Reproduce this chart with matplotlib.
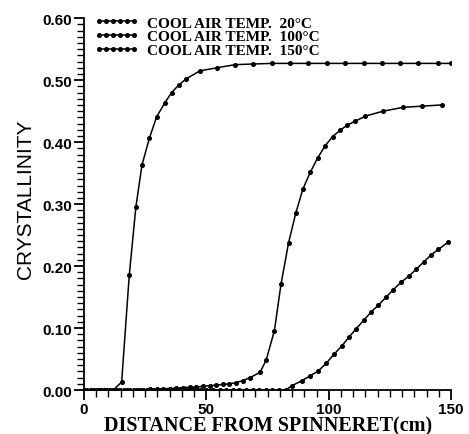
import matplotlib.pyplot as plt
from matplotlib.ticker import MultipleLocator, FormatStrFormatter

# Crystallinity along the spinline for three cool air temperatures
dist_20 = [0, 3, 6, 9, 12, 15.4, 18.5, 21.2, 23.7, 26.7, 29.7, 33.0, 35.8, 38.7,
           41.7, 47.4, 54.5, 61.8, 69.2, 76.7, 84.2, 91.6, 99.2, 106.7, 114.2,
           121.6, 129.1, 136.6, 144.8, 150]
cryst_20 = [0, 0, 0, 0, 0, 0.013, 0.185, 0.295, 0.363, 0.406, 0.441, 0.463, 0.480,
            0.492, 0.502, 0.515, 0.520, 0.525, 0.526, 0.527, 0.527, 0.527, 0.527,
            0.527, 0.527, 0.527, 0.527, 0.527, 0.527, 0.527]

dist_100 = [0, 2.7, 5.4, 8.1, 10.8, 13.5, 16.2, 18.9, 21.6, 24.3, 27.0, 29.7, 32.4,
            35.1, 37.8, 40.5, 43.2, 45.9, 48.6, 51.3, 54.0, 56.7, 59.4, 62.1, 64.8,
            67.8, 71.9, 74.4, 77.8, 80.5, 83.6, 86.5, 89.4, 92.4, 95.4, 98.5, 101.6,
            104.6, 107.4, 110.9, 115.0, 122.3, 130.2, 138.0, 146.2]
cryst_100 = [0, 0, 0, 0, 0, 0, 0, 0, 0, 0.0005, 0.001, 0.0015, 0.002, 0.0025, 0.003,
             0.004, 0.0045, 0.005, 0.006, 0.007, 0.008, 0.009, 0.010, 0.012, 0.015,
             0.020, 0.0285, 0.048, 0.096, 0.171, 0.238, 0.285, 0.324, 0.351, 0.374,
             0.394, 0.409, 0.419, 0.427, 0.434, 0.442, 0.450, 0.456, 0.458, 0.460]

dist_150 = [1.4, 4.1, 6.8, 9.5, 12.2, 14.9, 17.6, 20.3, 23.0, 25.7, 28.4, 31.1, 33.8,
            36.5, 39.2, 41.9, 44.6, 47.3, 50.0, 52.7, 55.4, 58.1, 60.8, 63.5, 66.2,
            68.9, 71.6, 74.3, 77.0, 79.7, 82.4, 84.9, 89.0, 92.4, 95.8, 98.9, 102.2,
            105.3, 108.4, 111.2, 114.4, 117.3, 120.3, 123.4, 126.4, 129.5, 132.8,
            135.7, 138.9, 141.8, 144.8, 148.9]
cryst_150 = [0] * 31 + [0.007, 0.015, 0.023, 0.031, 0.043, 0.058, 0.071, 0.086,
                        0.099, 0.113, 0.126, 0.137, 0.150, 0.162, 0.174, 0.184,
                        0.195, 0.207, 0.218, 0.227, 0.239]

labels = ['COOL AIR TEMP.  20\u00b0C', 'COOL AIR TEMP.  100\u00b0C',
          'COOL AIR TEMP.  150\u00b0C']

# Bold sans tick numbers
plt.rcParams['font.family'] = 'Liberation Sans'
plt.rcParams['font.weight'] = 'bold'

fig = plt.figure(figsize=(4.69, 4.35), dpi=100, facecolor='white')
ax = fig.add_axes([0.179, 0.101, 0.783, 0.855])

style = dict(color='black', linewidth=1.1, marker='o', markersize=2.6)
ax.plot(dist_20, cryst_20, label=labels[0], **style)
ax.plot(dist_100, cryst_100, label=labels[1], **style)
ax.plot(dist_150, cryst_150, label=labels[2], **style)

ax.set_xlim(0, 150)
ax.set_ylim(0, 0.6)

# Only the left and bottom axis lines
ax.spines['top'].set_visible(False)
ax.spines['right'].set_visible(False)
ax.spines['left'].set_linewidth(1.3)
ax.spines['bottom'].set_linewidth(1.3)

ax.xaxis.set_major_locator(MultipleLocator(50))
ax.xaxis.set_minor_locator(MultipleLocator(5))
ax.yaxis.set_major_locator(MultipleLocator(0.1))
ax.yaxis.set_minor_locator(MultipleLocator(0.01))
ax.yaxis.set_major_formatter(FormatStrFormatter('%.2f'))
ax.tick_params(which='both', direction='out', color='black',
               left=True, bottom=True, right=False, top=False)
ax.tick_params(which='major', length=7, width=1.3, labelsize=11, pad=1.5)
ax.tick_params(which='minor', length=5, width=1.0)

ax.set_xlabel('DISTANCE FROM SPINNERET(cm)', fontsize=14.5, fontweight='bold',
              family='Liberation Serif')
ax.xaxis.set_label_coords(0.5, -0.068)
ax.set_ylabel('CRYSTALLINITY', fontsize=15, fontweight='normal',
              family='Liberation Sans')
ax.yaxis.set_label_coords(-0.133, 0.516)

ax.legend(loc='upper left', bbox_to_anchor=(0.0, 1.035), frameon=False, numpoints=6,
          handlelength=2.9, handletextpad=0.5, labelspacing=0.0, borderaxespad=0.3,
          prop={'family': 'Liberation Serif', 'weight': 'bold', 'size': 11})

fig.canvas.draw()
fig.savefig('out.png', dpi=100, facecolor='white')
